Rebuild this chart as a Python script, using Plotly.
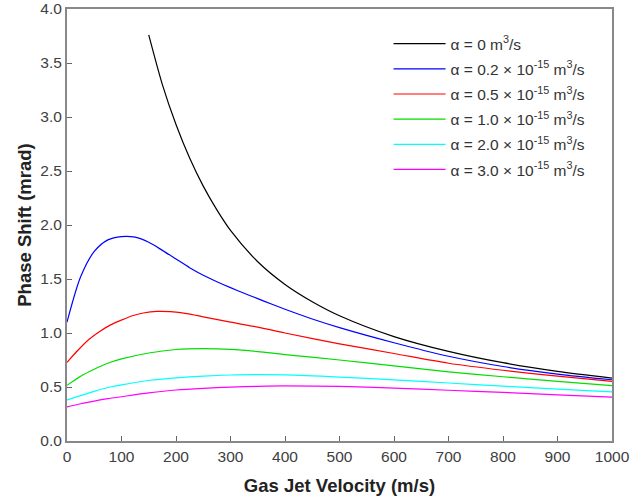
import plotly.graph_objects as go

# Data
v_black = [150, 175, 200, 225, 250, 275, 300, 350, 400, 450, 500, 600, 700, 800, 900, 1000]
y_black = [3.76, 3.30, 2.93, 2.62, 2.36, 2.14, 1.95, 1.66, 1.45, 1.29, 1.16, 0.967, 0.83, 0.725, 0.645, 0.583]

v_blue = [0, 25, 50, 75, 100, 125, 150, 175, 200, 225, 250, 275, 300, 325, 350, 375, 400, 450, 500, 600, 700, 800, 900, 1000]
y_blue = [1.10, 1.52, 1.755, 1.862, 1.893, 1.887, 1.84, 1.765, 1.685, 1.605, 1.535, 1.475, 1.42, 1.368, 1.318, 1.268, 1.22, 1.13, 1.05, 0.91, 0.785, 0.69, 0.62, 0.567]

v_red = [0, 20, 40, 60, 80, 100, 120, 140, 165, 190, 220, 250, 300, 350, 400, 500, 600, 700, 800, 900, 1000]
y_red = [0.728, 0.84, 0.94, 1.015, 1.075, 1.12, 1.16, 1.185, 1.20, 1.197, 1.18, 1.15, 1.10, 1.055, 1.00, 0.90, 0.81, 0.72, 0.655, 0.60, 0.552]

v_green = [0, 25, 50, 75, 100, 150, 200, 250, 300, 350, 400, 500, 600, 700, 800, 900, 1000]
y_green = [0.515, 0.60, 0.665, 0.72, 0.76, 0.815, 0.847, 0.855, 0.848, 0.828, 0.80, 0.75, 0.695, 0.64, 0.595, 0.552, 0.512]

v_cyan = [0, 25, 50, 75, 100, 150, 200, 250, 300, 350, 400, 500, 600, 700, 800, 900, 1000]
y_cyan = [0.38, 0.42, 0.46, 0.495, 0.52, 0.56, 0.584, 0.601, 0.611, 0.614, 0.612, 0.592, 0.566, 0.537, 0.508, 0.48, 0.454]

v_mag = [0, 25, 50, 75, 100, 150, 200, 250, 300, 350, 400, 500, 600, 700, 800, 900, 1000]
y_mag = [0.315, 0.345, 0.37, 0.392, 0.41, 0.445, 0.472, 0.488, 0.499, 0.506, 0.51, 0.505, 0.49, 0.47, 0.45, 0.428, 0.407]

labels = [
    "α = 0 m<sup>3</sup>/s",
    "α = 0.2 × 10<sup>-15</sup> m<sup>3</sup>/s",
    "α = 0.5 × 10<sup>-15</sup> m<sup>3</sup>/s",
    "α = 1.0 × 10<sup>-15</sup> m<sup>3</sup>/s",
    "α = 2.0 × 10<sup>-15</sup> m<sup>3</sup>/s",
    "α = 3.0 × 10<sup>-15</sup> m<sup>3</sup>/s",
]
colors = ["#000000", "#0000ff", "#ff0000", "#00dd00", "#00ffff", "#ff00ff"]
series = [(v_black, y_black), (v_blue, y_blue), (v_red, y_red),
          (v_green, y_green), (v_cyan, y_cyan), (v_mag, y_mag)]

fig = go.Figure()
for i, ((xv, yv), lab, col) in enumerate(zip(series, labels, colors)):
    fig.add_trace(go.Scatter(x=xv, y=yv, mode="lines", name=lab, legendgroup=f"g{i}",
                             line=dict(color=col, width=1.2, shape="spline", smoothing=0.8)))

FONT = "Liberation Sans, Arial"
axis_common = dict(showline=True, linecolor="#888888", linewidth=2, mirror=True,
                   ticks="inside", ticklen=5, tickcolor="#666666", showgrid=False,
                   zeroline=False, automargin=False,
                   tickfont=dict(family=FONT, size=15.5, color="#404040"))

fig.update_layout(
    width=632, height=500,
    margin=dict(l=67, r=20, t=9, b=59),
    plot_bgcolor="white", paper_bgcolor="white",
    font=dict(family=FONT, color="#222222"),
    xaxis=dict(range=[0, 1000], dtick=100, tick0=0,
               title=dict(text="<b>Gas Jet Velocity (m/s)</b>", font=dict(size=18.5, color="#222222")),
               **axis_common),
    yaxis=dict(range=[0, 4], dtick=0.5, tick0=0, tickformat=".1f",
               title=dict(text="<b>Phase Shift (mrad)</b>", font=dict(size=18.5, color="#222222"), standoff=4),
               **axis_common),
    legend=dict(x=0.59, y=0.958, xanchor="left", yanchor="top",
                bgcolor="rgba(255,255,255,0)", borderwidth=0,
                font=dict(family=FONT, size=15.5, color="#333333"),
                tracegroupgap=2, itemwidth=52),
)

fig.write_html("out.html")
